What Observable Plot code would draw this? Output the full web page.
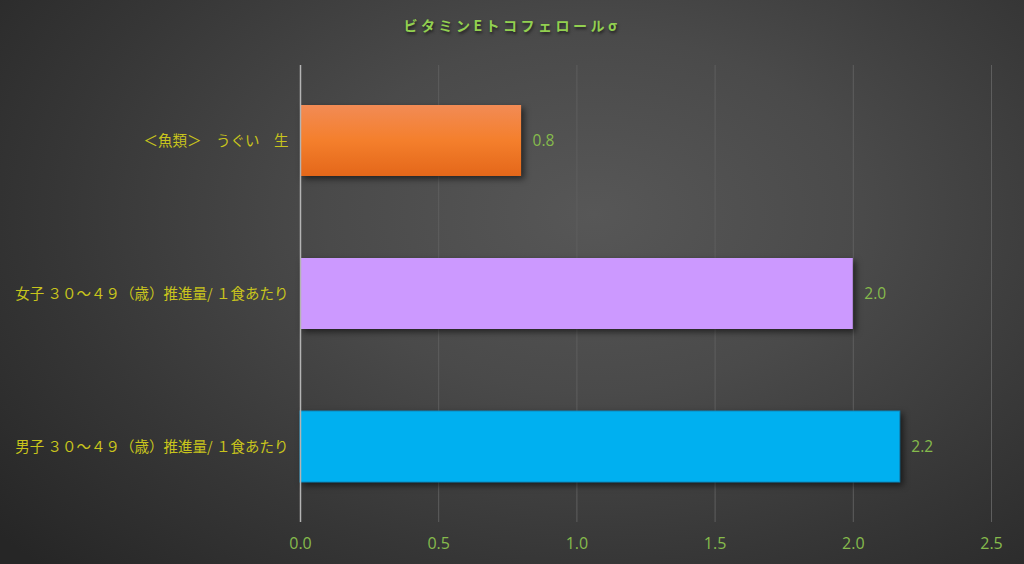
<!DOCTYPE html>
<html><head><meta charset="utf-8">
<script src="https://cdn.jsdelivr.net/npm/d3@7"></script>
<script src="https://cdn.jsdelivr.net/npm/@observablehq/plot@0.6"></script>
<style>
html,body{margin:0;padding:0;}
#wrap{width:1024px;height:564px;position:relative;overflow:hidden;
 background:radial-gradient(ellipse 75% 90% at 58% 38%, #575757 0%, #4a4a4a 35%, #363636 70%, #262626 100%);
 font-family:"Noto Sans CJK JP","Noto Sans",sans-serif;}
#title{height:50px;line-height:50px;text-align:center;color:#92d050;font-weight:bold;font-size:14px;letter-spacing:3.5px;
 text-shadow:1px 2px 3px rgba(0,0,0,0.55);}
svg{display:block;}
</style></head>
<body><div id="wrap"><div id="title">ビタミンEトコフェロールσ</div><div id="chart"></div></div>
<script>
const categories = ["＜魚類＞　うぐい　生", "女子 ３０～４９（歳）推進量/ １食あたり", "男子 ３０～４９（歳）推進量/ １食あたり"];
const values = [0.8, 2.0, 2.17];
const xTicks = [0, 0.5, 1.0, 1.5, 2.0, 2.5];
const barColors = ["url(#orangeGrad)", "#cc99ff", "#00b0f0"];

const data = categories.map((c, i) => ({category: c, value: values[i]}));
const numFont = "'Open Sans', 'Noto Sans', sans-serif";

const plot = Plot.plot({
  width: 1024,
  height: 514,
  marginTop: 15,
  marginBottom: 42,
  marginLeft: 300,
  marginRight: 33,
  style: {background: "transparent", fontFamily: "'Noto Sans CJK JP', sans-serif", fontSize: "14px", overflow: "visible"},
  x: {domain: [0, 2.5], ticks: xTicks, tickFormat: d => d.toFixed(1), tickSize: 0, tickPadding: 16, label: null},
  y: {domain: categories, paddingInner: 0.535, paddingOuter: 0.26, tickSize: 0, tickPadding: 12, label: null},
  color: {domain: categories, range: barColors},
  marks: [
    Plot.ruleX(xTicks.filter(d => d > 0), {stroke: "#5e5e5e", strokeWidth: 1}),
    Plot.barX(data, {y: "category", x: "value", fill: "category"}),
    Plot.ruleX([0], {stroke: "#b4b4b4", strokeWidth: 1.5}),
    Plot.text(data, {y: "category", x: "value", text: d => d.value.toFixed(1), dx: 11, textAnchor: "start", fill: "#86bb4c", fontSize: 15.5, fontFamily: numFont}),
    Plot.axisX({ticks: xTicks, tickFormat: d => d.toFixed(1), tickSize: 0, tickPadding: 15, color: "#86bb4c", fontSize: 16, fontFamily: numFont}),
    Plot.axisY({tickSize: 0, tickPadding: 12, color: "#c8c41c", fontSize: 14.5})
  ]
});

const svg = d3.select(plot);
const defs = svg.insert("defs", ":first-child");
const g = defs.append("linearGradient").attr("id", "orangeGrad").attr("x1", 0).attr("y1", 0).attr("x2", 0).attr("y2", 1);
g.append("stop").attr("offset", "0%").attr("stop-color", "#f28b55");
g.append("stop").attr("offset", "50%").attr("stop-color", "#f47f2c");
g.append("stop").attr("offset", "100%").attr("stop-color", "#e4671a");
svg.selectAll('g[aria-label="bar"] rect').style("filter", "drop-shadow(3px 3px 3px rgba(0,0,0,0.55))");
svg.selectAll('g[aria-label="bar"] rect').filter((d, i) => i === 2).attr("stroke", "#0a8ac0").attr("stroke-width", 1);
document.getElementById("chart").appendChild(plot);
</script>
</body></html>
